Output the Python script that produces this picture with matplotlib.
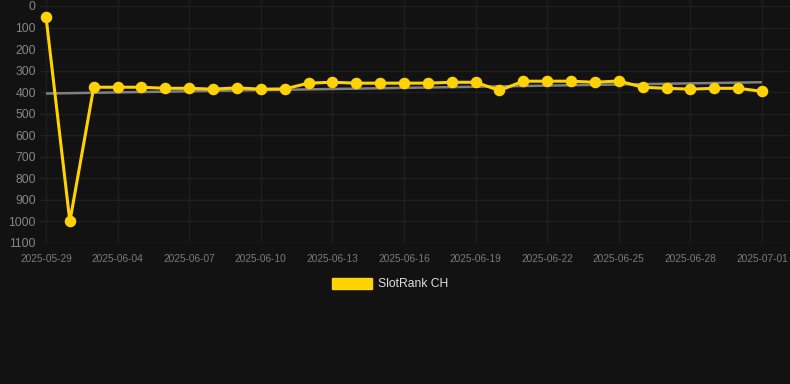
import matplotlib
matplotlib.use("Agg")
import matplotlib.pyplot as plt
from matplotlib.patches import Patch
import numpy as np
import datetime as dt

# ---- data ----
first_dates = ["2025-05-29", "2025-06-02", "2025-06-03"]
start = dt.date(2025, 6, 4)
later_dates = [(start + dt.timedelta(days=i)).isoformat() for i in range(28)]
dates = first_dates + later_dates

rank = [50, 1000, 377, 377, 377, 382, 382, 386, 380, 386, 385,
        358, 354, 358, 358, 358, 358, 354, 354, 392, 349,
        349, 349, 354, 348, 377, 382, 386, 382, 382, 396]

series_name = "SlotRank CH"
y_ticks = [0, 100, 200, 300, 400, 500, 600, 700, 800, 900, 1000, 1100]

# ---- style ----
BG = "#121212"
YELLOW = "#FFD200"
TICK = "#858585"
GRID = "#1f1f1f"
plt.rcParams["font.family"] = ["Liberation Sans", "DejaVu Sans"]

W, H = 790, 384
fig = plt.figure(figsize=(W / 100, H / 100), dpi=100, facecolor=BG)

ax_left, ax_right, ax_top, ax_bottom = 40, 790, 0, 243
ax = fig.add_axes([ax_left / W, 1 - ax_bottom / H,
                   (ax_right - ax_left) / W, (ax_bottom - ax_top) / H])
ax.set_facecolor(BG)

x = np.arange(len(rank))
# pixel mapping: index 0 at x=46, index 30 at x=762
ppi = (762 - 46) / 30
ax.set_xlim(-(46 - ax_left) / ppi, 30 + (ax_right - 762) / ppi)
ppu = (243 - 6) / 1100
ax.set_ylim(1100, -6 / ppu)

# trend line (linear regression)
coef = np.polyfit(x, rank, 1)
trend = np.polyval(coef, x)
ax.plot(x, trend, color="#808080", lw=1.8, zorder=2, solid_capstyle="butt")

ax.plot(x, rank, color=YELLOW, lw=2.2, marker="o", markersize=7.3,
        markerfacecolor=YELLOW, markeredgecolor=YELLOW, zorder=3, clip_on=False)

ax.set_yticks(y_ticks)
ax.set_yticklabels([str(v) for v in y_ticks])
tick_idx = list(range(0, len(dates), 3))
ax.set_xticks(tick_idx)
ax.set_xticklabels([dates[i] for i in tick_idx])

ax.grid(True, color=GRID, lw=1)
ax.set_axisbelow(True)
for s in ax.spines.values():
    s.set_visible(False)
ax.tick_params(axis="y", length=0, pad=3, labelsize=8.8, labelcolor=TICK)
ax.tick_params(axis="x", length=0, pad=8, labelsize=7.3, labelcolor="#7a7a7a")

handle = Patch(facecolor=YELLOW, edgecolor=YELLOW)
leg = fig.legend([handle], [series_name], loc="center",
                 bbox_to_anchor=(390 / W, 1 - 284 / H), frameon=False,
                 fontsize=8.7, handlelength=3.3, handleheight=1.0,
                 handletextpad=0.5, labelcolor="#dddddd")

fig.savefig("out.png", dpi=100, facecolor=BG)
